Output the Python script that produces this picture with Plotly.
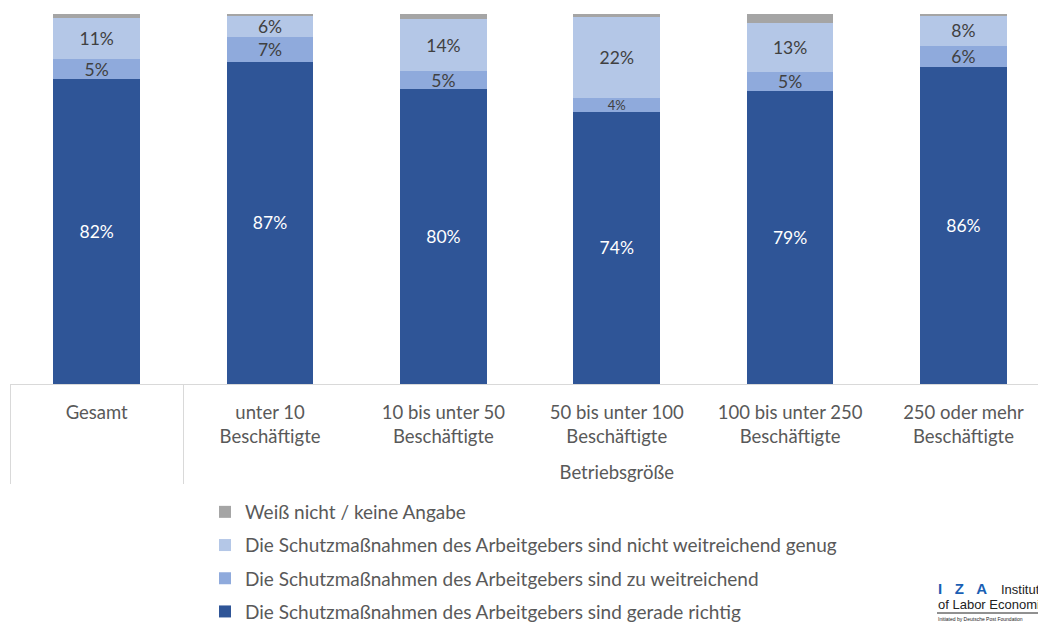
import plotly.graph_objects as go

# Betriebsgröße categories (outer group + inner label)
groups = ["", "Betriebsgröße", "Betriebsgröße", "Betriebsgröße", "Betriebsgröße", "Betriebsgröße"]
sizes = ["Gesamt", "unter 10<br>Beschäftigte", "10 bis unter 50<br>Beschäftigte",
         "50 bis unter 100<br>Beschäftigte", "100 bis unter 250<br>Beschäftigte",
         "250 oder mehr<br>Beschäftigte"]

# shares in percent
gerade_richtig = [82.4, 87.1, 79.6, 73.6, 79.3, 85.6]
zu_weitreichend = [5.4, 6.7, 5.0, 3.8, 5.1, 5.8]
nicht_genug = [11.1, 5.7, 14.0, 21.9, 13.2, 8.2]
weiss_nicht = [1.1, 0.5, 1.4, 0.7, 2.4, 0.4]

series = [
    ("Die Schutzmaßnahmen des Arbeitgebers sind gerade richtig", gerade_richtig, "#2f5597", "white", True),
    ("Die Schutzmaßnahmen des Arbeitgebers sind zu weitreichend", zu_weitreichend, "#8faadc", "#404040", True),
    ("Die Schutzmaßnahmen des Arbeitgebers sind nicht weitreichend genug", nicht_genug, "#b4c7e7", "#404040", True),
    ("Weiß nicht / keine Angabe", weiss_nicht, "#a5a5a5", "#404040", False),
]

FONT = "Lato"
W, H = 1038, 622
L, T, B = 10, 14, 238

# pad inner labels with an empty line so the group label sits lower
sizes_padded = [s + "<br>&nbsp;" if "<br>" in s else s + "<br>&nbsp;<br>&nbsp;" for s in sizes]

fig = go.Figure()
for i, (name, vals, color, tcol, labelled) in enumerate(series):
    sizes_txt = [13 if v < 4.5 else 17.5 for v in vals]
    fig.add_trace(go.Bar(
        x=[groups, sizes_padded], y=vals, name=name,
        marker=dict(color=color, line=dict(width=0)),
        text=[f"{v:.0f}%" for v in vals] if labelled else None,
        textposition="inside" if labelled else "none",
        insidetextanchor="middle",
        constraintext="none",
        textangle=0,
        textfont=dict(color=tcol, size=sizes_txt, family=FONT),
        legendgroup=str(i),
        legendrank=1000 - i,
        hoverinfo="skip",
    ))

def px_x(p):
    return (p - L) / (W - L)

def px_y(p):
    return (H - B - p) / (H - B - T)

fig.update_layout(
    width=W, height=H,
    barmode="stack", bargap=0.5,
    margin=dict(l=L, r=0, t=T, b=B, autoexpand=False),
    paper_bgcolor="white", plot_bgcolor="white",
    font=dict(family=FONT, color="#595959", size=19),
    xaxis=dict(
        type="multicategory", range=[-0.5, 5.43],
        showline=True, linecolor="#d9d9d9", linewidth=1,
        showdividers=True, dividercolor="#d9d9d9", dividerwidth=1,
        tickfont=dict(size=18.5, color="#595959", family=FONT),
        ticklabelstandoff=12,
        showgrid=False, ticks="",
    ),
    yaxis=dict(visible=False, range=[0, 100]),
    showlegend=True,
    legend=dict(
        orientation="v", traceorder="grouped", tracegroupgap=5.5,
        x=px_x(205), xanchor="left", y=px_y(493), yanchor="top",
        font=dict(size=19, color="#595959", family=FONT),
        itemclick=False,
    ),
)

# IZA logo (text only)
logo = [
    ("<b>I&nbsp;&nbsp;&nbsp;Z&nbsp;&nbsp;&nbsp;A</b>", 936, 588, 15, "#1a5fb4"),
    ("Institute", 999, 589, 13, "#222222"),
    ("of Labor Economics", 936, 604, 13, "#222222"),
    ("Initiated by Deutsche Post Foundation", 936, 619, 5, "#222222"),
]
for txt, x, y, s, c in logo:
    fig.add_annotation(text=txt, xref="paper", yref="paper", x=px_x(x), y=px_y(y),
                       xanchor="left", yanchor="middle", showarrow=False,
                       font=dict(size=s, color=c, family="Liberation Sans"))
fig.add_shape(type="line", xref="paper", yref="paper", x0=px_x(937), x1=px_x(1040),
              y0=px_y(613), y1=px_y(613), line=dict(color="#222222", width=1))

fig.write_html("out.html", config={"displayModeBar": False},
               post_script="document.body.style.margin='0';")
